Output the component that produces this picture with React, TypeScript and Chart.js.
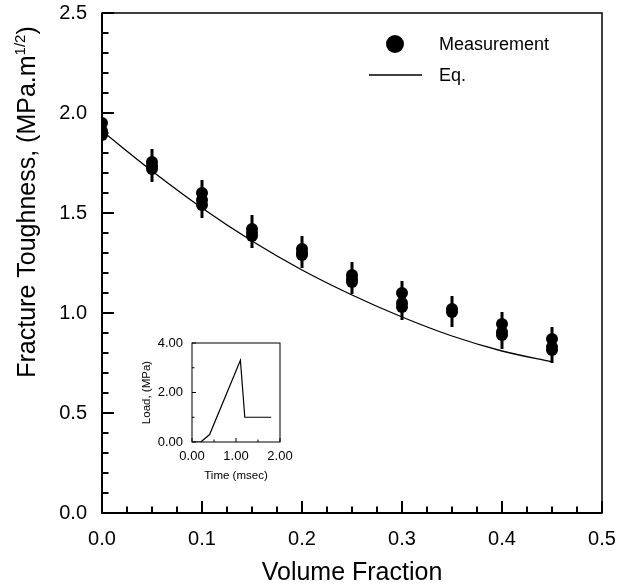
import React, { useEffect, useRef } from "react";
import { Chart, registerables } from "chart.js";
Chart.register(...registerables);

const FONT = "'Liberation Sans', Arial, Helvetica, sans-serif";

// Measurements (volume fraction, fracture toughness)
const measX = [0, 0, 0, 0.05, 0.05, 0.05, 0.1, 0.1, 0.1, 0.15, 0.15, 0.15, 0.2, 0.2, 0.2, 0.25, 0.25, 0.25, 0.3, 0.3, 0.3, 0.35, 0.35, 0.4, 0.4, 0.4, 0.45, 0.45, 0.45];
const measY = [1.95, 1.91, 1.89, 1.755, 1.735, 1.72, 1.6, 1.565, 1.54, 1.42, 1.4, 1.385, 1.32, 1.3, 1.29, 1.19, 1.17, 1.155, 1.1, 1.05, 1.03, 1.02, 1.005, 0.945, 0.905, 0.89, 0.87, 0.83, 0.815];

// Error bars
const errX = [0.05, 0.1, 0.15, 0.2, 0.25, 0.3, 0.35, 0.4, 0.45];
const errLow = [1.655, 1.475, 1.325, 1.225, 1.095, 0.965, 0.93, 0.82, 0.75];
const errHigh = [1.82, 1.665, 1.49, 1.385, 1.255, 1.16, 1.085, 1.005, 0.93];

// Equation curve
const eqX = [0, 0.05, 0.1, 0.15, 0.2, 0.25, 0.3, 0.35, 0.4, 0.45];
const eqY = [1.91, 1.71, 1.525, 1.36, 1.215, 1.09, 0.98, 0.885, 0.81, 0.755];

// Inset: load history
const insetTime = [0, 0.2, 0.4, 1.1, 1.2, 1.8];
const insetLoad = [0, 0, 0.3, 3.3, 1.0, 1.0];

const legendLabels = ["Measurement", "Eq."];
const xTitle = "Volume Fraction";
const yTitleMain = "Fracture Toughness, (MPa.m";
const yTitleSup = "1/2";
const yTitleEnd = ")";
const insetXTitle = "Time (msec)";
const insetYTitle = "Load, (MPa)";

const zeroPad = (s: any) => {
  s.paddingTop = 0;
  s.paddingBottom = 0;
  s.paddingLeft = 0;
  s.paddingRight = 0;
};

const mainDeco = {
  id: "mainDeco",
  beforeDatasetsDraw(chart: any) {
    const { ctx, scales } = chart;
    const xs = scales.x, ys = scales.y;
    ctx.save();
    ctx.strokeStyle = "#000";
    ctx.lineWidth = 3;
    for (let i = 0; i < errX.length; i++) {
      const px = xs.getPixelForValue(errX[i]);
      ctx.beginPath();
      ctx.moveTo(px, ys.getPixelForValue(errLow[i]));
      ctx.lineTo(px, ys.getPixelForValue(errHigh[i]));
      ctx.stroke();
    }
    ctx.restore();
  },
  afterDraw(chart: any) {
    const { ctx, chartArea: a, scales } = chart;
    const xs = scales.x, ys = scales.y;
    ctx.save();
    ctx.strokeStyle = "#000";
    ctx.lineWidth = 1.5;
    ctx.strokeRect(a.left, a.top, a.right - a.left, a.bottom - a.top);
    ctx.lineWidth = 2;
    ctx.beginPath();
    ctx.moveTo(a.left, a.top);
    ctx.lineTo(a.left, a.bottom);
    ctx.lineTo(a.right, a.bottom);
    ctx.stroke();
    for (let i = 0; i <= 25; i++) {
      const py = ys.getPixelForValue(i * 0.1);
      const len = i % 5 === 0 ? 12 : 6.5;
      ctx.beginPath();
      ctx.moveTo(a.left, py);
      ctx.lineTo(a.left + len, py);
      ctx.stroke();
    }
    for (let i = 0; i <= 20; i++) {
      const px = xs.getPixelForValue(i * 0.025);
      const len = i % 4 === 0 ? 12 : 6.5;
      ctx.beginPath();
      ctx.moveTo(px, a.bottom);
      ctx.lineTo(px, a.bottom - len);
      ctx.stroke();
    }
    // legend
    ctx.fillStyle = "#000";
    ctx.beginPath();
    ctx.arc(395, 44, 9, 0, Math.PI * 2);
    ctx.fill();
    ctx.lineWidth = 1.3;
    ctx.beginPath();
    ctx.moveTo(369, 75);
    ctx.lineTo(422, 75);
    ctx.stroke();
    ctx.font = `18px ${FONT}`;
    ctx.textAlign = "left";
    ctx.textBaseline = "middle";
    ctx.fillText(legendLabels[0], 439, 45);
    ctx.fillText(legendLabels[1], 439, 76);
    // x title
    ctx.font = `25px ${FONT}`;
    ctx.textAlign = "center";
    ctx.textBaseline = "alphabetic";
    ctx.fillText(xTitle, (a.left + a.right) / 2, 580);
    // y title with superscript
    ctx.translate(35, 202);
    ctx.rotate(-Math.PI / 2);
    ctx.font = `25px ${FONT}`;
    const w1 = ctx.measureText(yTitleMain).width;
    ctx.font = `15px ${FONT}`;
    const w2 = ctx.measureText(yTitleSup).width;
    ctx.font = `25px ${FONT}`;
    const w3 = ctx.measureText(yTitleEnd).width;
    let sx = -(w1 + w2 + w3) / 2;
    ctx.textAlign = "left";
    ctx.fillText(yTitleMain, sx, 0);
    sx += w1;
    ctx.font = `15px ${FONT}`;
    ctx.fillText(yTitleSup, sx, -10);
    sx += w2;
    ctx.font = `25px ${FONT}`;
    ctx.fillText(yTitleEnd, sx, 0);
    ctx.restore();
  },
};

const insetDeco = {
  id: "insetDeco",
  afterDraw(chart: any) {
    const { ctx, chartArea: a, scales } = chart;
    const xs = scales.x, ys = scales.y;
    ctx.save();
    ctx.strokeStyle = "#000";
    ctx.lineWidth = 1;
    ctx.strokeRect(a.left, a.top, a.right - a.left, a.bottom - a.top);
    for (let i = 0; i <= 4; i++) {
      const py = ys.getPixelForValue(i);
      ctx.beginPath();
      ctx.moveTo(a.left, py);
      ctx.lineTo(a.left + (i % 2 === 0 ? 4 : 2.5), py);
      ctx.stroke();
    }
    for (let i = 0; i <= 4; i++) {
      const px = xs.getPixelForValue(i * 0.5);
      ctx.beginPath();
      ctx.moveTo(px, a.bottom);
      ctx.lineTo(px, a.bottom - (i % 2 === 0 ? 4 : 2.5));
      ctx.stroke();
    }
    ctx.fillStyle = "#000";
    ctx.font = `11.5px ${FONT}`;
    ctx.textAlign = "center";
    ctx.textBaseline = "middle";
    ctx.fillText(insetXTitle, (a.left + a.right) / 2, 146);
    ctx.translate(12, (a.top + a.bottom) / 2);
    ctx.rotate(-Math.PI / 2);
    ctx.fillText(insetYTitle, 0, 0);
    ctx.restore();
  },
};

export default function App() {
  const mainRef = useRef<HTMLCanvasElement>(null);
  const insetRef = useRef<HTMLCanvasElement>(null);

  useEffect(() => {
    document.body.style.margin = "0";
    const main = new Chart(mainRef.current!, {
      type: "scatter",
      data: {
        datasets: [
          {
            label: legendLabels[1],
            data: eqX.map((x, i) => ({ x, y: eqY[i] })),
            showLine: true,
            borderColor: "#000",
            borderWidth: 1.3,
            pointRadius: 0,
            cubicInterpolationMode: "monotone",
            order: 2,
          } as any,
          {
            label: legendLabels[0],
            data: measX.map((x, i) => ({ x, y: measY[i] })),
            backgroundColor: "#000",
            borderColor: "#000",
            pointRadius: 6,
            borderWidth: 0,
            order: 1,
          },
        ],
      },
      options: {
        animation: false,
        responsive: false,
        maintainAspectRatio: false,
        layout: { padding: { top: 13, right: 18, left: 0, bottom: 0 } },
        plugins: { legend: { display: false }, tooltip: { enabled: false } },
        scales: {
          x: {
            type: "linear",
            min: 0,
            max: 0.5,
            grid: { display: false, drawTicks: false },
            border: { display: false },
            ticks: {
              stepSize: 0.1,
              padding: 14,
              color: "#000",
              font: { family: FONT, size: 20 },
              callback: (v: any) => Number(v).toFixed(1),
            },
            afterFit: (s: any) => { s.height = 72; zeroPad(s); },
          },
          y: {
            type: "linear",
            min: 0,
            max: 2.5,
            grid: { display: false, drawTicks: false },
            border: { display: false },
            ticks: {
              stepSize: 0.5,
              padding: 15,
              color: "#000",
              font: { family: FONT, size: 20 },
              callback: (v: any) => Number(v).toFixed(1),
            },
            afterFit: (s: any) => { s.width = 102; zeroPad(s); },
          },
        },
      },
      plugins: [mainDeco],
    });

    const inset = new Chart(insetRef.current!, {
      type: "scatter",
      data: {
        datasets: [
          {
            data: insetTime.map((x, i) => ({ x, y: insetLoad[i] })),
            showLine: true,
            borderColor: "#000",
            borderWidth: 1.2,
            pointRadius: 0,
            tension: 0,
          } as any,
        ],
      },
      options: {
        animation: false,
        responsive: false,
        maintainAspectRatio: false,
        layout: { padding: { top: 13, right: 15, left: 0, bottom: 0 } },
        plugins: { legend: { display: false }, tooltip: { enabled: false } },
        scales: {
          x: {
            type: "linear",
            min: 0,
            max: 2,
            grid: { display: false, drawTicks: false },
            border: { display: false },
            ticks: {
              stepSize: 1,
              padding: 7,
              color: "#000",
              font: { family: FONT, size: 13 },
              callback: (v: any) => Number(v).toFixed(2),
            },
            afterFit: (s: any) => { s.height = 48; zeroPad(s); },
          },
          y: {
            type: "linear",
            min: 0,
            max: 4,
            grid: { display: false, drawTicks: false },
            border: { display: false },
            ticks: {
              stepSize: 2,
              padding: 9,
              color: "#000",
              font: { family: FONT, size: 13 },
              callback: (v: any) => Number(v).toFixed(2),
            },
            afterFit: (s: any) => { s.width = 57; zeroPad(s); },
          },
        },
      },
      plugins: [insetDeco],
    });

    return () => {
      main.destroy();
      inset.destroy();
    };
  }, []);

  return (
    <div style={{ position: "relative", width: 620, height: 585, background: "#fff" }}>
      <canvas ref={mainRef} width={620} height={585} style={{ position: "absolute", left: 0, top: 0 }} />
      <canvas ref={insetRef} width={160} height={160} style={{ position: "absolute", left: 135, top: 330 }} />
    </div>
  );
}
